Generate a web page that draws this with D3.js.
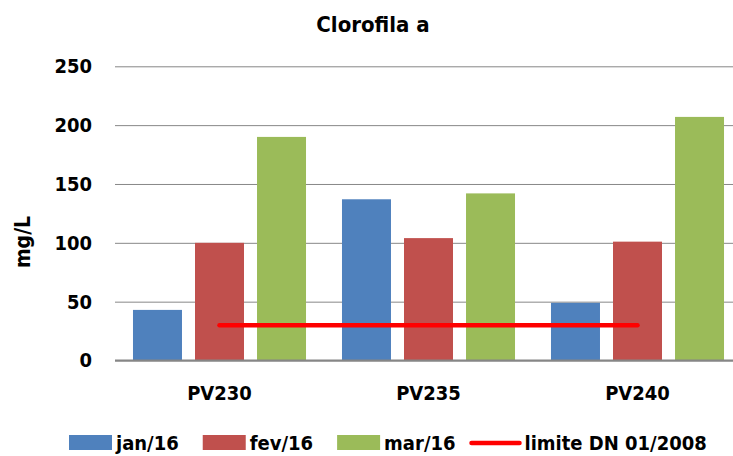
<!DOCTYPE html>
<html>
<head>
<meta charset="utf-8">
<script src="https://cdn.jsdelivr.net/npm/d3@7"></script>
<style>
  body { margin: 0; background: #fff; }
  svg { display: block; font-family: "DejaVu Sans Condensed", "DejaVu Sans", sans-serif; }
</style>
</head>
<body>
<svg id="chart"></svg>
<script>
const categories = ["PV230", "PV235", "PV240"];
const seriesNames = ["jan/16", "fev/16", "mar/16"];
const seriesColors = ["#4F81BD", "#C0504D", "#9BBB59"];
const jan16 = [43, 137, 49];
const fev16 = [100, 104, 101];
const mar16 = [190, 142, 207];
const limitName = "limite DN 01/2008";
const limitValues = [30, 30, 30];
const yTicks = [0, 50, 100, 150, 200, 250];

const seriesValues = [jan16, fev16, mar16];
const data = categories.map((c, i) => ({
    cat: c,
    values: seriesNames.map((s, j) => ({ series: s, value: seriesValues[j][i] }))
}));

const W = 733, H = 456;
const svg = d3.select("#chart").attr("width", W).attr("height", H);

const x0 = d3.scaleBand().domain(categories).range([115, 742]).padding(0);
const x1 = d3.scaleBand().domain(seriesNames).range([0, x0.bandwidth()])
    .paddingInner(0.21).paddingOuter(0.29);
const y = d3.scaleLinear().domain([0, 250]).range([360.5, 66.3]);
const color = d3.scaleOrdinal().domain(seriesNames).range(seriesColors);

// gridlines + y labels
const yAxis = svg.append("g")
    .attr("transform", "translate(115,0)")
    .call(d3.axisLeft(y).tickValues(yTicks).tickSize(-(W - 115)).tickPadding(23));
yAxis.select(".domain").remove();
yAxis.selectAll(".tick line").attr("stroke", "#878787").attr("stroke-width", 1);
yAxis.selectAll(".tick text")
    .style("font-size", "20px")
    .style("font-weight", "bold")
    .style("font-family", "'DejaVu Sans Condensed', 'DejaVu Sans', sans-serif")
    .attr("fill", "#000");

// bars
svg.append("g").selectAll("g")
    .data(data)
    .join("g")
    .attr("transform", d => `translate(${x0(d.cat)},0)`)
    .selectAll("rect")
    .data(d => d.values)
    .join("rect")
    .attr("x", d => x1(d.series))
    .attr("y", d => y(d.value))
    .attr("width", x1.bandwidth())
    .attr("height", d => y(0) - y(d.value))
    .attr("fill", d => color(d.series));

// baseline
svg.append("line")
    .attr("x1", 115).attr("x2", W)
    .attr("y1", y(0)).attr("y2", y(0))
    .attr("stroke", "#868686").attr("stroke-width", 2);

// x labels
const xAxis = svg.append("g")
    .attr("transform", `translate(0,${y(0)})`)
    .call(d3.axisBottom(x0).tickSize(0).tickPadding(25));
xAxis.select(".domain").remove();
xAxis.selectAll(".tick text")
    .style("font-size", "20px")
    .style("font-weight", "bold")
    .style("font-family", "'DejaVu Sans Condensed', 'DejaVu Sans', sans-serif")
    .attr("fill", "#000");

// limit line
const line = d3.line()
    .x((d, i) => x0(categories[i]) + x0.bandwidth() / 2)
    .y(d => y(d));
svg.append("path")
    .datum(limitValues)
    .attr("d", line)
    .attr("fill", "none")
    .attr("stroke", "#FF0000")
    .attr("stroke-width", 4.5)
    .attr("stroke-linecap", "round");

// title
svg.append("text")
    .attr("x", 373).attr("y", 32)
    .attr("text-anchor", "middle")
    .style("font-size", "22px")
    .style("font-weight", "bold")
    .text("Clorofila a");

// y axis title
svg.append("text")
    .attr("transform", "translate(30,242) rotate(-90)")
    .attr("text-anchor", "middle")
    .style("font-size", "21px")
    .style("font-weight", "bold")
    .text("mg/L");

// legend
const legend = svg.append("g").attr("transform", "translate(69,443)");
let lx = 0;
const items = seriesNames.map(s => ({ name: s, type: "rect" }))
    .concat([{ name: limitName, type: "line" }]);
items.forEach(it => {
    if (it.type === "rect") {
        legend.append("rect")
            .attr("x", lx).attr("y", -8)
            .attr("width", 43).attr("height", 15)
            .attr("fill", color(it.name));
        lx += 47;
    } else {
        lx -= 10;
        legend.append("line")
            .attr("x1", lx + 2).attr("x2", lx + 50)
            .attr("y1", 0).attr("y2", 0)
            .attr("stroke", "#FF0000").attr("stroke-width", 4.5)
            .attr("stroke-linecap", "round");
        lx += 55;
    }
    const t = legend.append("text")
        .attr("x", lx).attr("y", 7)
        .style("font-size", "20px")
        .style("font-weight", "bold")
        .text(it.name);
    lx += t.node().getComputedTextLength() + 24;
});
</script>
</body>
</html>
